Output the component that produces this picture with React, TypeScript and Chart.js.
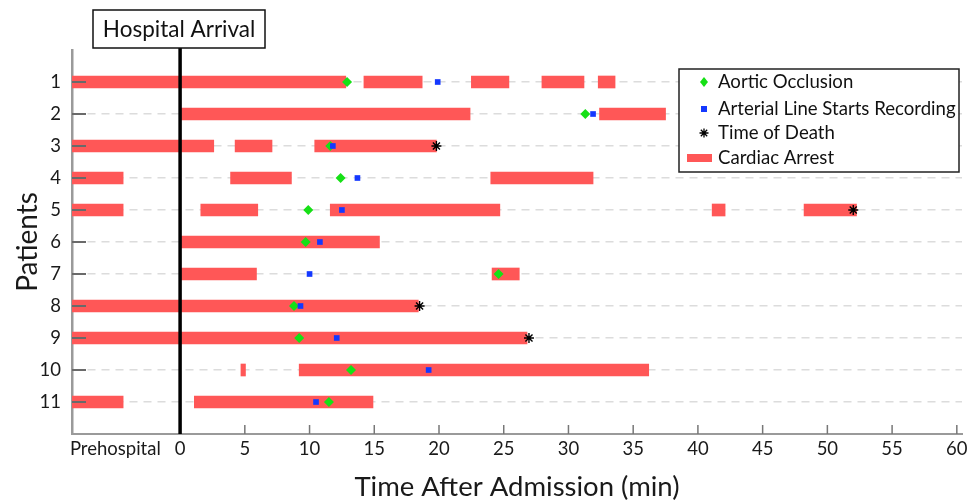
import { useEffect, useRef } from 'react';
import { Chart, registerables } from 'chart.js';

Chart.register(...registerables);

// ---- data ----
const X_MIN = -8.35; // left edge of the axis (prehospital period)
const X_MAX = 60.4;
const patients = [1, 2, 3, 4, 5, 6, 7, 8, 9, 10, 11];
const xTickValues = [-5, 0, 5, 10, 15, 20, 25, 30, 35, 40, 45, 50, 55, 60];
const PREHOSPITAL_VALUE = -5;
const PREHOSPITAL_LABEL = 'Prehospital';

// [patient, start, end] in minutes
const cardiacArrest: [number, number, number][] = [
  [1, X_MIN, 12.8], [1, 14.2, 18.7], [1, 22.5, 25.4], [1, 27.95, 31.2], [1, 32.3, 33.6],
  [2, 0, 22.4], [2, 32.4, 37.5],
  [3, X_MIN, 2.6], [3, 4.25, 7.1], [3, 10.4, 19.8],
  [4, X_MIN, -4.4], [4, 3.9, 8.6], [4, 24.0, 31.9],
  [5, X_MIN, -4.4], [5, 1.6, 6.0], [5, 11.6, 24.7], [5, 41.1, 42.1], [5, 48.2, 52.25],
  [6, 0, 15.4],
  [7, 0, 5.9], [7, 24.1, 26.2],
  [8, X_MIN, 18.4],
  [9, X_MIN, 26.8],
  [10, 4.7, 5.05], [10, 9.2, 36.2],
  [11, X_MIN, -4.4], [11, 1.1, 14.9],
];

// [patient, minute]
const aorticOcclusion: [number, number][] = [
  [1, 12.9], [2, 31.3], [3, 11.6], [4, 12.4], [5, 9.9], [6, 9.7],
  [7, 24.6], [8, 8.8], [9, 9.2], [10, 13.2], [11, 11.5],
];
const arterialLine: [number, number][] = [
  [1, 19.9], [2, 31.9], [3, 11.8], [4, 13.7], [5, 12.5], [6, 10.8],
  [7, 10.0], [8, 9.3], [9, 12.1], [10, 19.2], [11, 10.5],
];
const timeOfDeath: [number, number][] = [
  [3, 19.8], [5, 52.0], [8, 18.5], [9, 26.95],
];

const RED = '#ff5757';
const GREEN = '#16e016';
const BLUE = '#1438ff';
const FONT = 'Lato, "Open Sans", sans-serif';

const overlayPlugin = {
  id: 'overlay',
  afterDatasetsDraw(chart: any) {
    const { ctx, chartArea, scales } = chart;
    const x = scales.x;
    const y = scales.y;
    ctx.save();
    // inward y ticks
    ctx.strokeStyle = '#6a6a6a';
    ctx.lineWidth = 2;
    patients.forEach((p) => {
      const py = y.getPixelForValue(p);
      ctx.beginPath();
      ctx.moveTo(chartArea.left, py);
      ctx.lineTo(chartArea.left + 14, py);
      ctx.stroke();
    });
    // inward x ticks
    ctx.strokeStyle = '#777';
    ctx.lineWidth = 1.5;
    xTickValues.forEach((v) => {
      if (v <= 0) return;
      const px = x.getPixelForValue(v);
      ctx.beginPath();
      ctx.moveTo(px, chartArea.bottom);
      ctx.lineTo(px, chartArea.bottom - 9);
      ctx.stroke();
    });
    // hospital arrival line
    const x0 = x.getPixelForValue(0);
    ctx.strokeStyle = '#000';
    ctx.lineWidth = 3.5;
    ctx.beginPath();
    ctx.moveTo(x0, 48);
    ctx.lineTo(x0, chartArea.bottom);
    ctx.stroke();
    ctx.restore();
  },
  afterDraw(chart: any) {
    const { ctx, scales } = chart;
    const x0 = scales.x.getPixelForValue(0);
    ctx.save();
    // Hospital Arrival box
    ctx.fillStyle = '#fff';
    ctx.strokeStyle = '#111';
    ctx.lineWidth = 1.5;
    ctx.fillRect(93, 10, 172, 38);
    ctx.strokeRect(93, 10, 172, 38);
    ctx.fillStyle = '#111';
    ctx.font = `22.5px ${FONT}`;
    ctx.textAlign = 'center';
    ctx.textBaseline = 'middle';
    ctx.fillText('Hospital Arrival', x0 - 1, 30);

    // legend
    const lx = 679, ly = 69, lw = 280, lh = 103;
    ctx.fillStyle = '#fff';
    ctx.fillRect(lx, ly, lw, lh);
    ctx.strokeStyle = '#222';
    ctx.lineWidth = 1.5;
    ctx.strokeRect(lx, ly, lw, lh);
    ctx.font = `18.6px ${FONT}`;
    ctx.textAlign = 'left';
    ctx.fillStyle = '#111';
    const tx = 718;
    const mx = 704;
    const rows = [
      { label: 'Aortic Occlusion', y: 82 },
      { label: 'Arterial Line Starts Recording', y: 109 },
      { label: 'Time of Death', y: 133 },
      { label: 'Cardiac Arrest', y: 158 },
    ];
    rows.forEach((r) => {
      ctx.fillStyle = '#111';
      ctx.fillText(r.label, tx, r.y);
    });
    // diamond
    ctx.fillStyle = GREEN;
    ctx.beginPath();
    ctx.moveTo(mx, rows[0].y - 5);
    ctx.lineTo(mx + 4, rows[0].y);
    ctx.lineTo(mx, rows[0].y + 5);
    ctx.lineTo(mx - 4, rows[0].y);
    ctx.closePath();
    ctx.fill();
    // square
    ctx.fillStyle = BLUE;
    ctx.fillRect(mx - 3, rows[1].y - 3, 6, 6);
    // star
    ctx.strokeStyle = '#000';
    ctx.lineWidth = 1.3;
    const sy = rows[2].y;
    ctx.beginPath();
    for (let i = 0; i < 4; i++) {
      const a = (i * Math.PI) / 4;
      ctx.moveTo(mx - 4.5 * Math.cos(a), sy - 4.5 * Math.sin(a));
      ctx.lineTo(mx + 4.5 * Math.cos(a), sy + 4.5 * Math.sin(a));
    }
    ctx.stroke();
    // bar
    ctx.fillStyle = RED;
    ctx.fillRect(687, rows[3].y - 4, 25, 8);
    ctx.restore();
  },
};

export default function App() {
  const canvasRef = useRef<HTMLCanvasElement | null>(null);

  useEffect(() => {
    if (!canvasRef.current) return;
    const chart = new Chart(canvasRef.current, {
      type: 'bar',
      data: {
        datasets: [
          {
            type: 'scatter',
            label: 'Time of Death',
            data: timeOfDeath.map(([p, t]) => ({ x: t, y: p })),
            pointStyle: 'star',
            pointRadius: 5,
            borderColor: '#000',
            backgroundColor: '#000',
            borderWidth: 1.4,
            order: 1,
          } as any,
          {
            type: 'scatter',
            label: 'Arterial Line Starts Recording',
            data: arterialLine.map(([p, t]) => ({ x: t, y: p })),
            pointStyle: 'rect',
            pointRadius: 4,
            backgroundColor: BLUE,
            borderColor: BLUE,
            borderWidth: 0,
            order: 2,
          } as any,
          {
            type: 'scatter',
            label: 'Aortic Occlusion',
            data: aorticOcclusion.map(([p, t]) => ({ x: t, y: p })),
            pointStyle: 'rectRot',
            pointRadius: 5,
            backgroundColor: GREEN,
            borderColor: GREEN,
            borderWidth: 0,
            order: 3,
          } as any,
          {
            type: 'bar',
            label: 'Cardiac Arrest',
            indexAxis: 'y',
            data: cardiacArrest.map(([p, s, e]) => ({ y: p, x: [s, e] })),
            backgroundColor: RED,
            borderWidth: 0,
            barThickness: 12,
            grouped: false,
            order: 10,
          } as any,
        ],
      },
      options: {
        animation: false,
        responsive: false,
        maintainAspectRatio: false,
        layout: { padding: { top: 50, right: 14, left: 0, bottom: 0 } },
        plugins: {
          legend: { display: false },
          tooltip: { enabled: false },
        },
        scales: {
          x: {
            type: 'linear',
            offset: false,
            min: X_MIN,
            max: X_MAX,
            afterBuildTicks: (scale: any) => {
              scale.ticks = xTickValues.map((v) => ({ value: v }));
            },
            afterFit: (scale: any) => {
              scale.height = 68;
            },
            grid: { display: false, drawTicks: false, offset: false },
            border: { display: true, color: '#9a9a9a', width: 2 },
            ticks: {
              autoSkip: false,
              maxRotation: 0,
              padding: 4,
              color: '#1a1a1a',
              font: { family: FONT, size: 18.5 },
              callback: (v: any) => (v === PREHOSPITAL_VALUE ? PREHOSPITAL_LABEL : String(v)),
            },
            title: {
              display: true,
              text: 'Time After Admission (min)',
              color: '#1a1a1a',
              font: { family: FONT, size: 27.5, lineHeight: 1.05 },
              padding: { top: 0, bottom: 0 },
            },
          },
          y: {
            type: 'linear',
            offset: false,
            reverse: true,
            min: 0,
            max: 12,
            afterBuildTicks: (scale: any) => {
              scale.ticks = patients.map((v) => ({ value: v }));
            },
            afterFit: (scale: any) => {
              scale.width = 72;
            },
            grid: {
              display: true,
              drawTicks: false,
              offset: false,
              color: '#dcdcdc',
              lineWidth: 1.5,
            },
            border: { display: true, color: '#9a9a9a', width: 2.5, dash: [8, 6] },
            ticks: {
              autoSkip: false,
              padding: 11,
              color: '#1a1a1a',
              font: { family: FONT, size: 18.5 },
              callback: (v: any) => String(v),
            },
            title: {
              display: true,
              text: 'Patients',
              color: '#1a1a1a',
              font: { family: FONT, size: 28 },
              padding: { top: 11, bottom: 0 },
            },
          },
        },
      } as any,
      plugins: [overlayPlugin],
    });
    return () => chart.destroy();
  }, []);

  return (
    <div style={{ position: 'fixed', left: 0, top: 0, width: 976, height: 502, background: '#fff' }}>
      <canvas ref={canvasRef} width={976} height={502} style={{ display: 'block', width: 976, height: 502 }} />
    </div>
  );
}
